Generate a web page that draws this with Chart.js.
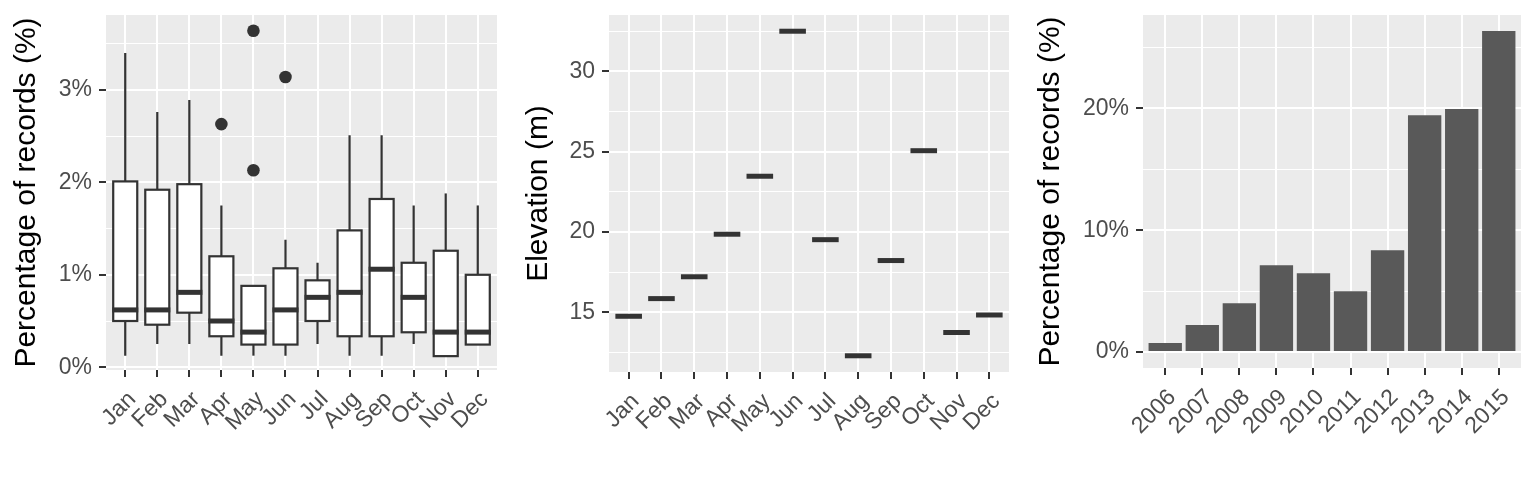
<!DOCTYPE html>
<html>
<head>
<meta charset="utf-8">
<script src="https://cdn.jsdelivr.net/npm/chart.js@4.4.1/dist/chart.umd.min.js"></script>
<style>
    html, body { margin: 0; padding: 0; background: #ffffff; }
    #wrap { display: flex; width: 1536px; height: 480px; }
    canvas { display: block; }
</style>
</head>
<body>
<div id="wrap">
    <canvas id="monthBox" width="512" height="480"></canvas>
    <canvas id="elevation" width="512" height="480"></canvas>
    <canvas id="yearBars" width="512" height="480"></canvas>
</div>
<script>
// Data
const months = ['Jan', 'Feb', 'Mar', 'Apr', 'May', 'Jun', 'Jul', 'Aug', 'Sep', 'Oct', 'Nov', 'Dec'];

// Monthly percentage of records (%) - boxplot stats
const pctLow    = [0.125, 0.25, 0.25, 0.125, 0.125, 0.125, 0.25, 0.125, 0.125, 0.25, 0.12, 0.245];
const pctQ1     = [0.50, 0.46, 0.59, 0.335, 0.245, 0.245, 0.50, 0.335, 0.335, 0.378, 0.12, 0.245];
const pctMedian = [0.62, 0.62, 0.81, 0.50, 0.38, 0.62, 0.756, 0.81, 1.06, 0.756, 0.38, 0.38];
const pctQ3     = [2.01, 1.92, 1.98, 1.20, 0.88, 1.07, 0.94, 1.48, 1.82, 1.13, 1.26, 1.00];
const pctHigh   = [3.40, 2.76, 2.89, 1.75, 0.88, 1.38, 1.13, 2.51, 2.51, 1.75, 1.88, 1.75];
const pctOutliers = [
    { month: 3, value: 2.63 },
    { month: 4, value: 3.64 },
    { month: 4, value: 2.13 },
    { month: 5, value: 3.14 }
];
const pctTicks = [0, 0.5, 1, 1.5, 2, 2.5, 3, 3.5];

// Monthly elevation (m) - single value per month
const elevation = [14.75, 15.85, 17.21, 19.86, 23.47, 32.50, 19.52, 12.29, 18.22, 25.06, 13.74, 14.83];
const elevTicks = [12.5, 15, 17.5, 20, 22.5, 25, 27.5, 30, 32.5];

// Yearly percentage of records (%)
const years = ['2006', '2007', '2008', '2009', '2010', '2011', '2012', '2013', '2014', '2015'];
const yearPct = [0.74, 2.22, 4.00, 7.12, 6.47, 4.99, 8.36, 19.45, 19.95, 26.36];
const yearTicks = [0, 5, 10, 15, 20, 25];

Chart.defaults.font.family = '"Liberation Sans", Arial, Helvetica, sans-serif';
Chart.defaults.animation = false;

const PANEL_BG = '#EBEBEB';
const INK = '#333333';

// Grey panel background behind the grid
const panelBackground = {
    id: 'panelBackground',
    beforeDraw(chart) {
        const { ctx, chartArea: a } = chart;
        ctx.save();
        ctx.fillStyle = PANEL_BG;
        ctx.fillRect(a.left, a.top, a.right - a.left, a.bottom - a.top);
        ctx.restore();
    }
};

// Boxplot drawing through the chart scales
const boxplotLayer = {
    id: 'boxplotLayer',
    afterDatasetsDraw(chart, args, opts) {
        const { ctx } = chart;
        const xs = chart.scales.x;
        const ys = chart.scales.y;
        const half = (xs.getPixelForValue(1) - xs.getPixelForValue(0)) * 0.375;
        ctx.save();
        ctx.strokeStyle = INK;
        opts.median.forEach((m, i) => {
            const cx = xs.getPixelForValue(i);
            const yLow = ys.getPixelForValue(opts.low[i]);
            const yQ1 = ys.getPixelForValue(opts.q1[i]);
            const yQ3 = ys.getPixelForValue(opts.q3[i]);
            const yHigh = ys.getPixelForValue(opts.high[i]);
            const yMed = ys.getPixelForValue(m);

            // whiskers
            ctx.lineWidth = 2.2;
            ctx.beginPath();
            ctx.moveTo(cx, yQ3);
            ctx.lineTo(cx, yHigh);
            ctx.moveTo(cx, yQ1);
            ctx.lineTo(cx, yLow);
            ctx.stroke();

            // box
            ctx.fillStyle = '#ffffff';
            ctx.fillRect(cx - half, yQ3, half * 2, yQ1 - yQ3);
            ctx.strokeRect(cx - half, yQ3, half * 2, yQ1 - yQ3);

            // median
            ctx.lineWidth = 5;
            ctx.beginPath();
            ctx.moveTo(cx - half - 1, yMed);
            ctx.lineTo(cx + half + 1, yMed);
            ctx.stroke();
        });
        ctx.restore();
    }
};

// keep the plot panel where the reference has it
function noPadding(s) {
    s.paddingTop = 0;
    s.paddingBottom = 0;
    s.paddingLeft = 0;
    s.paddingRight = 0;
}

function categoryAxis(labels, height) {
    return {
        type: 'linear',
        offset: false,
        min: -0.6,
        max: labels.length - 0.4,
        afterBuildTicks: s => { s.ticks = labels.map((m, i) => ({ value: i })); },
        afterFit: s => { s.height = height; noPadding(s); },
        border: { display: false },
        grid: {
            offset: false,
            color: '#ffffff',
            lineWidth: 2,
            tickColor: INK,
            tickWidth: 2,
            tickLength: 7
        },
        ticks: {
            autoSkip: false,
            minRotation: 45,
            maxRotation: 45,
            padding: 9,
            labelOffset: 7,
            color: '#4D4D4D',
            font: { size: 23 },
            callback: v => labels[v]
        }
    };
}

function valueAxis(tickList, majorStep, min, max, width, title, fmt) {
    const isMajor = v => Math.abs(v / majorStep - Math.round(v / majorStep)) < 1e-6;
    return {
        type: 'linear',
        min: min,
        max: max,
        afterBuildTicks: s => { s.ticks = tickList.map(v => ({ value: v })); },
        afterFit: s => { s.width = width; noPadding(s); },
        border: { display: false },
        grid: {
            color: '#ffffff',
            lineWidth: c => isMajor(c.tick.value) ? 2 : 1,
            tickColor: c => isMajor(c.tick.value) ? INK : 'rgba(0,0,0,0)',
            tickWidth: 2,
            tickLength: 7
        },
        ticks: {
            padding: 7,
            color: '#4D4D4D',
            font: { size: 23 },
            callback: v => isMajor(v) ? fmt(v) : ''
        },
        title: {
            display: true,
            text: title,
            color: '#000000',
            font: { size: 30, lineHeight: 1 },
            padding: { top: 12, bottom: 0 }
        }
    };
}

// Panel 1: monthly boxplots
new Chart(document.getElementById('monthBox'), {
    type: 'scatter',
    data: {
        datasets: [{
            label: 'outliers',
            data: pctOutliers.map(o => ({ x: o.month, y: o.value })),
            pointRadius: 6.3,
            pointHoverRadius: 6.3,
            backgroundColor: INK,
            borderColor: INK,
            borderWidth: 0
        }]
    },
    options: {
        responsive: false,
        layout: { padding: { top: 15, right: 15, left: 0, bottom: 0 } },
        plugins: {
            legend: { display: false },
            tooltip: { enabled: false },
            boxplotLayer: { low: pctLow, q1: pctQ1, median: pctMedian, q3: pctQ3, high: pctHigh }
        },
        scales: {
            x: categoryAxis(months, 110),
            y: valueAxis(pctTicks, 1, -0.03, 3.81, 106, 'Percentage of records (%)', v => v + '%')
        }
    },
    plugins: [panelBackground, boxplotLayer]
});

// Panel 2: elevation per month
new Chart(document.getElementById('elevation'), {
    type: 'scatter',
    data: { datasets: [] },
    options: {
        responsive: false,
        layout: { padding: { top: 15, right: 15, left: 0, bottom: 0 } },
        plugins: {
            legend: { display: false },
            tooltip: { enabled: false },
            boxplotLayer: { low: elevation, q1: elevation, median: elevation, q3: elevation, high: elevation }
        },
        scales: {
            x: categoryAxis(months, 108),
            y: valueAxis(elevTicks, 5, 11.28, 33.51, 97, 'Elevation (m)', v => String(v))
        }
    },
    plugins: [panelBackground, boxplotLayer]
});

// Panel 3: yearly bars
new Chart(document.getElementById('yearBars'), {
    type: 'bar',
    data: {
        datasets: [{
            label: 'records',
            data: yearPct.map((v, i) => ({ x: i, y: v })),
            backgroundColor: '#595959',
            borderWidth: 0,
            barPercentage: 0.9,
            categoryPercentage: 1
        }]
    },
    options: {
        responsive: false,
        layout: { padding: { top: 15, right: 15, left: 0, bottom: 0 } },
        plugins: {
            legend: { display: false },
            tooltip: { enabled: false }
        },
        scales: {
            x: categoryAxis(years, 112),
            y: valueAxis(yearTicks, 10, -1.32, 27.68, 119, 'Percentage of records (%)', v => v + '%')
        }
    },
    plugins: [panelBackground]
});
</script>
</body>
</html>
